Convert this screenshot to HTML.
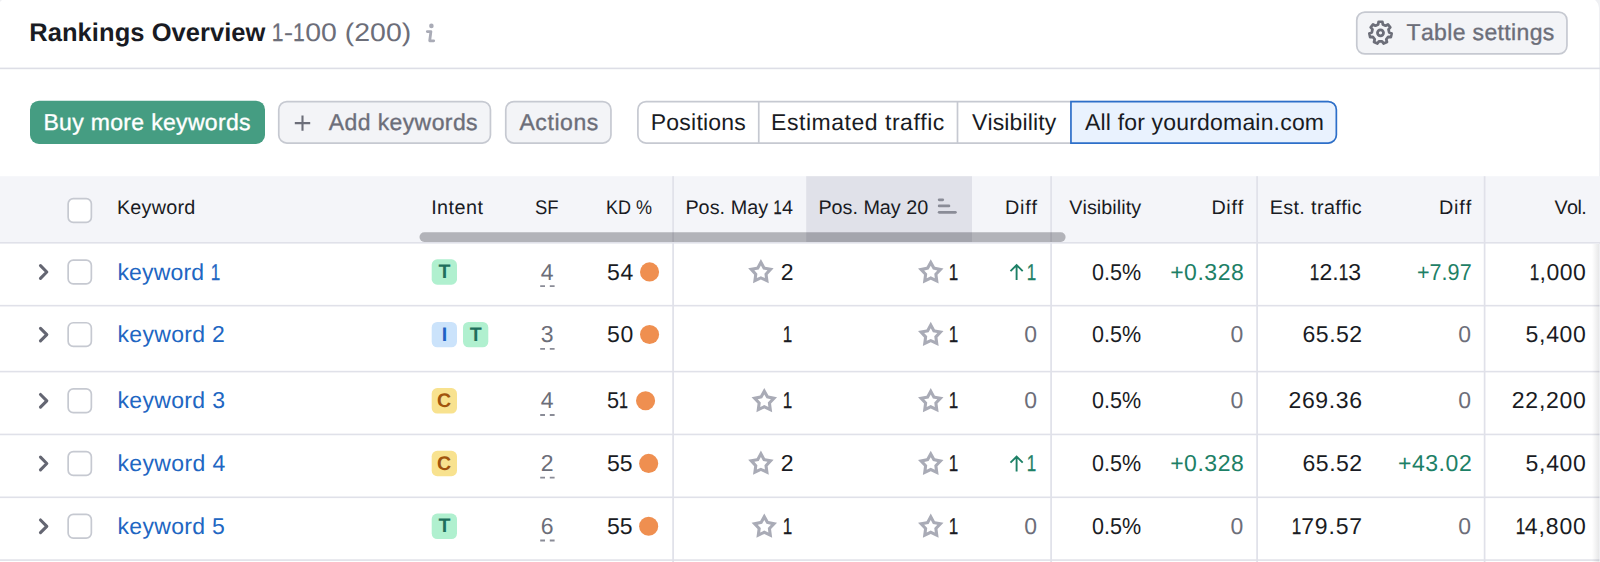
<!DOCTYPE html>
<html lang="en"><head><meta charset="utf-8"><title>Rankings Overview</title>
<style>
*{box-sizing:border-box;margin:0;padding:0}
html,body{width:1600px;height:562px;overflow:hidden;background:#eff0f3}
body{position:relative;font-family:"Liberation Sans",sans-serif;color:#191b23;font-kerning:none;text-rendering:geometricPrecision}
.card{position:absolute;left:-2px;top:-2px;width:1601px;height:580px;background:#fff;border-radius:10px}
.shade{position:absolute;left:1592px;top:244px;width:7px;height:318px;background:linear-gradient(90deg,rgba(25,27,35,0),rgba(25,27,35,.10))}
svg{position:absolute;left:0;top:0}
.a{position:absolute;white-space:nowrap;height:30px;line-height:30px;transform-origin:0 50%}
.gr{color:#6c6e79}
.gn{color:#1d8066}
.kw{color:#2166c2}
.md{-webkit-text-stroke:.35px currentColor}
.o{display:inline-block;letter-spacing:0;transform:scaleX(.74);margin:0 -.07em;-webkit-text-stroke:.3px currentColor}
</style></head><body>
<div class="card"></div>
<svg width="1600" height="562" viewBox="0 0 1600 562">
<path d="M427.300 31.600H430.900L429.700 40.800H433.700" fill="none" stroke="#a9abb6" stroke-width="2.800" stroke-linecap="round" stroke-linejoin="round"/><circle cx="431.400" cy="25.900" r="2.300" fill="#a9abb6"/>
<rect x="1356.75" y="12.05" width="210.20" height="41.90" rx="8.15" fill="#f3f4f7" stroke="#c6c9d1" stroke-width="1.7"/>
<g fill="none" stroke="#6c6e79" stroke-width="2.700" stroke-linejoin="round"><path d="M1378.18 24.42 L1378.61 21.76 L1382.39 21.76 L1382.82 24.42 L1385.61 25.76 L1387.95 24.44 L1390.31 27.40 L1388.50 29.39 L1389.19 32.40 L1391.68 33.41 L1390.84 37.10 L1388.16 36.93 L1386.23 39.35 L1387.00 41.92 L1383.58 43.57 L1382.05 41.36 L1378.95 41.36 L1377.42 43.57 L1374.00 41.92 L1374.77 39.35 L1372.84 36.93 L1370.16 37.10 L1369.32 33.41 L1371.81 32.40 L1372.50 29.39 L1370.69 27.40 L1373.05 24.44 L1375.39 25.76Z"/><circle cx="1380.500" cy="32.800" r="3" stroke-width="2.800"/></g>
<rect x="0" y="67.60" width="1600" height="1.6" fill="#dddee6"/>
<rect x="30.00" y="100.70" width="235.00" height="43.20" rx="9.00" fill="#459d82"/>
<rect x="278.75" y="101.55" width="211.70" height="41.50" rx="8.15" fill="#f3f4f7" stroke="#c6c9d1" stroke-width="1.7"/>
<path d="M294.800 123.100H310.200M302.500 115.400V130.800" stroke="#6c6e79" stroke-width="2.100" fill="none"/>
<rect x="505.75" y="101.55" width="105.20" height="41.50" rx="8.15" fill="#f3f4f7" stroke="#c6c9d1" stroke-width="1.7"/>
<rect x="637.90" y="101.55" width="698.25" height="41.50" rx="8.15" fill="#fff" stroke="#c6c9d1" stroke-width="1.7"/>
<rect x="757.90" y="101.5" width="1.7" height="41.5" fill="#c6c9d1"/>
<rect x="956.65" y="101.5" width="1.7" height="41.5" fill="#c6c9d1"/>
<path d="M1070.9499999999998 101.55H1328.2A8.15 8.15 0 0 1 1336.3500000000001 109.7V134.9A8.15 8.15 0 0 1 1328.2 143.05H1070.9499999999998Z" fill="#e9f2fe" stroke="#2d6fc9" stroke-width="1.7"/>
<rect x="0" y="176.200" width="1600" height="66.600" fill="#f4f5f9"/>
<rect x="806.200" y="176.200" width="165.800" height="66.600" fill="#e0e1e9"/>
<rect x="0" y="242.00" width="1600" height="1.6" fill="#e0e1e9"/>
<rect x="0" y="304.85" width="1600" height="1.6" fill="#e0e1e9"/>
<rect x="0" y="370.80" width="1600" height="1.6" fill="#e0e1e9"/>
<rect x="0" y="433.65" width="1600" height="1.6" fill="#e0e1e9"/>
<rect x="0" y="496.50" width="1600" height="1.6" fill="#e0e1e9"/>
<rect x="0" y="559.30" width="1600" height="1.6" fill="#e0e1e9"/>
<rect x="672.25" y="176.2" width="1.7" height="385.8" fill="#e0e1e9"/>
<rect x="1050.25" y="176.2" width="1.7" height="385.8" fill="#e0e1e9"/>
<rect x="1256.25" y="176.2" width="1.7" height="385.8" fill="#e0e1e9"/>
<rect x="1483.75" y="176.2" width="1.7" height="385.8" fill="#e0e1e9"/>
<rect x="419.50" y="232.30" width="646.10" height="9.60" rx="4.80" fill="rgba(25,27,35,.3)"/>
<g fill="#8a8c97"><rect x="937.800" y="198.400" width="6.300" height="2.800" rx="1.400"/><rect x="937.800" y="204.500" width="12.500" height="2.800" rx="1.400"/><rect x="937.800" y="210.900" width="19" height="2.800" rx="1.400"/></g>
<rect x="68.15" y="198.65" width="23.20" height="23.70" rx="5.15" fill="#fff" stroke="#c6c9d1" stroke-width="1.7"/>
<path d="M40.500 265.70L46.800 272.00L40.500 278.30" fill="none" stroke="#646672" stroke-width="3.100" stroke-linecap="round" stroke-linejoin="round"/>
<rect x="68.15" y="260.15" width="23.20" height="23.70" rx="5.15" fill="#fff" stroke="#c6c9d1" stroke-width="1.7"/>
<rect x="431.70" y="259.30" width="25.30" height="25.40" rx="5.50" fill="#b0f0cf"/>
<path d="M540.200 286.20H554.600" stroke="#8a8c97" stroke-width="1.800" stroke-dasharray="4.800 4.800" fill="none"/>
<circle cx="649.55" cy="271.90" r="9.550" fill="#ef8f50"/>
<path fill="#a9abb6" fill-rule="evenodd" d="M760.90 259.10 L765.07 266.76 L773.64 268.36 L767.65 274.69 L768.78 283.34 L760.90 279.60 L753.02 283.34 L754.15 274.69 L748.16 268.36 L756.73 266.76Z M760.90 265.60 L763.07 269.51 L767.46 270.37 L764.42 273.64 L764.96 278.08 L760.90 276.20 L756.84 278.08 L757.38 273.64 L754.34 270.37 L758.73 269.51Z"/>
<path fill="#a9abb6" fill-rule="evenodd" d="M930.75 259.20 L934.92 266.86 L943.49 268.46 L937.50 274.79 L938.63 283.44 L930.75 279.70 L922.87 283.44 L924.00 274.79 L918.01 268.46 L926.58 266.86Z M930.75 265.70 L932.92 269.61 L937.31 270.47 L934.27 273.74 L934.81 278.18 L930.75 276.30 L926.69 278.18 L927.23 273.74 L924.19 270.47 L928.58 269.61Z"/>
<path d="M1016.600 280.00V265.50M1010.500 271.10L1016.600 265.00L1022.700 271.10" fill="none" stroke="#1d8066" stroke-width="1.900"/>
<path d="M40.500 328.30L46.800 334.60L40.500 340.90" fill="none" stroke="#646672" stroke-width="3.100" stroke-linecap="round" stroke-linejoin="round"/>
<rect x="68.15" y="322.75" width="23.20" height="23.70" rx="5.15" fill="#fff" stroke="#c6c9d1" stroke-width="1.7"/>
<rect x="431.70" y="321.90" width="25.30" height="25.40" rx="5.50" fill="#cbe3fb"/>
<rect x="463.00" y="321.90" width="25.30" height="25.40" rx="5.50" fill="#b0f0cf"/>
<path d="M540.200 348.80H554.600" stroke="#8a8c97" stroke-width="1.800" stroke-dasharray="4.800 4.800" fill="none"/>
<circle cx="649.55" cy="334.50" r="9.550" fill="#ef8f50"/>
<path fill="#a9abb6" fill-rule="evenodd" d="M930.75 321.80 L934.92 329.46 L943.49 331.06 L937.50 337.39 L938.63 346.04 L930.75 342.30 L922.87 346.04 L924.00 337.39 L918.01 331.06 L926.58 329.46Z M930.75 328.30 L932.92 332.21 L937.31 333.07 L934.27 336.34 L934.81 340.78 L930.75 338.90 L926.69 340.78 L927.23 336.34 L924.19 333.07 L928.58 332.21Z"/>
<path d="M40.500 394.50L46.800 400.80L40.500 407.10" fill="none" stroke="#646672" stroke-width="3.100" stroke-linecap="round" stroke-linejoin="round"/>
<rect x="68.15" y="388.95" width="23.20" height="23.70" rx="5.15" fill="#fff" stroke="#c6c9d1" stroke-width="1.7"/>
<rect x="431.70" y="388.10" width="25.30" height="25.40" rx="5.50" fill="#f8e28f"/>
<path d="M540.200 415.00H554.600" stroke="#8a8c97" stroke-width="1.800" stroke-dasharray="4.800 4.800" fill="none"/>
<circle cx="645.55" cy="400.70" r="9.550" fill="#ef8f50"/>
<path fill="#a9abb6" fill-rule="evenodd" d="M764.30 387.90 L768.47 395.56 L777.04 397.16 L771.05 403.49 L772.18 412.14 L764.30 408.40 L756.42 412.14 L757.55 403.49 L751.56 397.16 L760.13 395.56Z M764.30 394.40 L766.47 398.31 L770.86 399.17 L767.82 402.44 L768.36 406.88 L764.30 405.00 L760.24 406.88 L760.78 402.44 L757.74 399.17 L762.13 398.31Z"/>
<path fill="#a9abb6" fill-rule="evenodd" d="M930.75 388.00 L934.92 395.66 L943.49 397.26 L937.50 403.59 L938.63 412.24 L930.75 408.50 L922.87 412.24 L924.00 403.59 L918.01 397.26 L926.58 395.66Z M930.75 394.50 L932.92 398.41 L937.31 399.27 L934.27 402.54 L934.81 406.98 L930.75 405.10 L926.69 406.98 L927.23 402.54 L924.19 399.27 L928.58 398.41Z"/>
<path d="M40.500 457.20L46.800 463.50L40.500 469.80" fill="none" stroke="#646672" stroke-width="3.100" stroke-linecap="round" stroke-linejoin="round"/>
<rect x="68.15" y="451.65" width="23.20" height="23.70" rx="5.15" fill="#fff" stroke="#c6c9d1" stroke-width="1.7"/>
<rect x="431.70" y="450.80" width="25.30" height="25.40" rx="5.50" fill="#f8e28f"/>
<path d="M540.200 477.70H554.600" stroke="#8a8c97" stroke-width="1.800" stroke-dasharray="4.800 4.800" fill="none"/>
<circle cx="648.65" cy="463.40" r="9.550" fill="#ef8f50"/>
<path fill="#a9abb6" fill-rule="evenodd" d="M760.90 450.60 L765.07 458.26 L773.64 459.86 L767.65 466.19 L768.78 474.84 L760.90 471.10 L753.02 474.84 L754.15 466.19 L748.16 459.86 L756.73 458.26Z M760.90 457.10 L763.07 461.01 L767.46 461.87 L764.42 465.14 L764.96 469.58 L760.90 467.70 L756.84 469.58 L757.38 465.14 L754.34 461.87 L758.73 461.01Z"/>
<path fill="#a9abb6" fill-rule="evenodd" d="M930.75 450.70 L934.92 458.36 L943.49 459.96 L937.50 466.29 L938.63 474.94 L930.75 471.20 L922.87 474.94 L924.00 466.29 L918.01 459.96 L926.58 458.36Z M930.75 457.20 L932.92 461.11 L937.31 461.97 L934.27 465.24 L934.81 469.68 L930.75 467.80 L926.69 469.68 L927.23 465.24 L924.19 461.97 L928.58 461.11Z"/>
<path d="M1016.600 471.50V457.00M1010.500 462.60L1016.600 456.50L1022.700 462.60" fill="none" stroke="#1d8066" stroke-width="1.900"/>
<path d="M40.500 520.00L46.800 526.30L40.500 532.60" fill="none" stroke="#646672" stroke-width="3.100" stroke-linecap="round" stroke-linejoin="round"/>
<rect x="68.15" y="514.45" width="23.20" height="23.70" rx="5.15" fill="#fff" stroke="#c6c9d1" stroke-width="1.7"/>
<rect x="431.70" y="513.60" width="25.30" height="25.40" rx="5.50" fill="#b0f0cf"/>
<path d="M540.200 540.50H554.600" stroke="#8a8c97" stroke-width="1.800" stroke-dasharray="4.800 4.800" fill="none"/>
<circle cx="648.65" cy="526.20" r="9.550" fill="#ef8f50"/>
<path fill="#a9abb6" fill-rule="evenodd" d="M764.30 513.40 L768.47 521.06 L777.04 522.66 L771.05 528.99 L772.18 537.64 L764.30 533.90 L756.42 537.64 L757.55 528.99 L751.56 522.66 L760.13 521.06Z M764.30 519.90 L766.47 523.81 L770.86 524.67 L767.82 527.94 L768.36 532.38 L764.30 530.50 L760.24 532.38 L760.78 527.94 L757.74 524.67 L762.13 523.81Z"/>
<path fill="#a9abb6" fill-rule="evenodd" d="M930.75 513.50 L934.92 521.16 L943.49 522.76 L937.50 529.09 L938.63 537.74 L930.75 534.00 L922.87 537.74 L924.00 529.09 L918.01 522.76 L926.58 521.16Z M930.75 520.00 L932.92 523.91 L937.31 524.77 L934.27 528.04 L934.81 532.48 L930.75 530.60 L926.69 532.48 L927.23 528.04 L924.19 524.77 L928.58 523.91Z"/>
</svg>
<div class="shade"></div>
<div class="a" style="top:18px;font-size:25.5px;font-weight:700;left:29.29px;letter-spacing:0.056px;">Rankings Overview</div>
<div class="a gr" style="top:18px;font-size:25.5px;left:272.08px;transform:scaleX(1.1162);"><span class="o">1</span>-<span class="o">1</span>00 (200)</div>
<div class="a gr md" style="top:17px;font-size:23px;left:1406.48px;letter-spacing:0.358px;">Table settings</div>
<div class="a md" style="top:107px;font-size:23px;left:43.41px;letter-spacing:0.326px;color:#fff">Buy more keywords</div>
<div class="a gr md" style="top:107px;font-size:23px;left:328.71px;letter-spacing:0.402px;">Add keywords</div>
<div class="a gr md" style="top:107px;font-size:23px;left:519.46px;letter-spacing:0.575px;">Actions</div>
<div class="a" style="top:107px;font-size:23px;left:650.81px;letter-spacing:0.212px;">Positions</div>
<div class="a" style="top:107px;font-size:23px;left:771.11px;letter-spacing:0.522px;">Estimated traffic</div>
<div class="a" style="top:107px;font-size:23px;left:971.90px;letter-spacing:0.147px;">Visibility</div>
<div class="a" style="top:107px;font-size:23px;left:1084.96px;letter-spacing:0.184px;">All for yourdomain.com</div>
<div class="a" style="top:193px;font-size:19.8px;left:116.88px;letter-spacing:0.228px;">Keyword</div>
<div class="a" style="top:193px;font-size:19.8px;left:431.17px;letter-spacing:0.447px;">Intent</div>
<div class="a" style="top:193px;font-size:19.8px;left:535.16px;transform:scaleX(0.9318);">SF</div>
<div class="a" style="top:193px;font-size:19.8px;left:605.52px;transform:scaleX(0.9113);">KD %</div>
<div class="a" style="top:193px;font-size:19.8px;left:685.38px;letter-spacing:0.047px;">Pos. May <span class="o">1</span>4</div>
<div class="a" style="top:193px;font-size:19.8px;left:818.38px;letter-spacing:-0.015px;">Pos. May 20</div>
<div class="a" style="top:193px;font-size:19.8px;left:1004.88px;letter-spacing:0.798px;">Diff</div>
<div class="a" style="top:193px;font-size:19.8px;left:1069.16px;letter-spacing:0.068px;">Visibility</div>
<div class="a" style="top:193px;font-size:19.8px;left:1211.38px;letter-spacing:0.698px;">Diff</div>
<div class="a" style="top:193px;font-size:19.8px;left:1269.63px;letter-spacing:0.375px;">Est. traffic</div>
<div class="a" style="top:193px;font-size:19.8px;left:1438.88px;letter-spacing:0.865px;">Diff</div>
<div class="a" style="top:193px;font-size:19.8px;left:1554.41px;letter-spacing:-0.574px;">Vol.</div>
<div class="a kw" style="top:257px;font-size:23px;left:117.45px;letter-spacing:0.179px;">keyword <span class="o">1</span></div>
<div class="a" style="top:257px;font-size:19.6px;font-weight:700;left:438.43px;color:#1f6f5c">T</div>
<div class="a gr" style="top:257px;font-size:23px;left:540.78px;">4</div>
<div class="a" style="top:257px;font-size:23px;left:606.88px;letter-spacing:0.912px;">54</div>
<div class="a" style="top:257px;font-size:23px;left:780.85px;">2</div>
<div class="a" style="top:257px;font-size:23px;left:948.83px;"><span class="o">1</span></div>
<div class="a gn" style="top:257px;font-size:23px;left:1026.63px;"><span class="o">1</span></div>
<div class="a" style="top:257px;font-size:23px;left:1092.16px;transform:scaleX(0.9368);">0.5%</div>
<div class="a gn" style="top:257px;font-size:23px;left:1170.13px;letter-spacing:0.537px;">+0.328</div>
<div class="a" style="top:257px;font-size:23px;left:1309.90px;letter-spacing:-0.003px;"><span class="o">1</span>2.<span class="o">1</span>3</div>
<div class="a gn" style="top:257px;font-size:23px;left:1416.95px;transform:scaleX(0.9389);">+7.97</div>
<div class="a" style="top:257px;font-size:23px;left:1529.90px;letter-spacing:0.554px;"><span class="o">1</span>,000</div>
<div class="a kw" style="top:319px;font-size:23px;left:117.45px;letter-spacing:0.329px;">keyword 2</div>
<div class="a" style="top:320px;font-size:19.6px;font-weight:700;left:441.83px;color:#2060c4">I</div>
<div class="a" style="top:320px;font-size:19.6px;font-weight:700;left:469.73px;color:#1f6f5c">T</div>
<div class="a gr" style="top:319px;font-size:23px;left:540.77px;">3</div>
<div class="a" style="top:319px;font-size:23px;left:606.88px;letter-spacing:0.836px;">50</div>
<div class="a" style="top:319px;font-size:23px;left:782.68px;"><span class="o">1</span></div>
<div class="a" style="top:319px;font-size:23px;left:948.83px;"><span class="o">1</span></div>
<div class="a gr" style="top:319px;font-size:23px;left:1024.23px;">0</div>
<div class="a" style="top:319px;font-size:23px;left:1092.16px;transform:scaleX(0.9368);">0.5%</div>
<div class="a gr" style="top:319px;font-size:23px;left:1230.40px;">0</div>
<div class="a" style="top:319px;font-size:23px;left:1302.58px;letter-spacing:0.505px;">65.52</div>
<div class="a gr" style="top:319px;font-size:23px;left:1458.28px;">0</div>
<div class="a" style="top:319px;font-size:23px;left:1525.58px;letter-spacing:0.691px;">5,400</div>
<div class="a kw" style="top:385px;font-size:23px;left:117.45px;letter-spacing:0.342px;">keyword 3</div>
<div class="a" style="top:386px;font-size:19.6px;font-weight:700;left:437.11px;color:#a1540d">C</div>
<div class="a gr" style="top:385px;font-size:23px;left:540.78px;">4</div>
<div class="a" style="top:385px;font-size:23px;left:606.93px;transform:scaleX(0.9437);">5<span class="o">1</span></div>
<div class="a" style="top:385px;font-size:23px;left:782.68px;"><span class="o">1</span></div>
<div class="a" style="top:385px;font-size:23px;left:948.83px;"><span class="o">1</span></div>
<div class="a gr" style="top:385px;font-size:23px;left:1024.23px;">0</div>
<div class="a" style="top:385px;font-size:23px;left:1092.16px;transform:scaleX(0.9368);">0.5%</div>
<div class="a gr" style="top:385px;font-size:23px;left:1230.40px;">0</div>
<div class="a" style="top:385px;font-size:23px;left:1288.54px;letter-spacing:0.624px;">269.36</div>
<div class="a gr" style="top:385px;font-size:23px;left:1458.28px;">0</div>
<div class="a" style="top:385px;font-size:23px;left:1511.84px;letter-spacing:0.742px;">22,200</div>
<div class="a kw" style="top:448px;font-size:23px;left:117.45px;letter-spacing:0.375px;">keyword 4</div>
<div class="a" style="top:449px;font-size:19.6px;font-weight:700;left:437.11px;color:#a1540d">C</div>
<div class="a gr" style="top:448px;font-size:23px;left:540.70px;">2</div>
<div class="a" style="top:448px;font-size:23px;left:606.88px;letter-spacing:0.104px;">55</div>
<div class="a" style="top:448px;font-size:23px;left:780.85px;">2</div>
<div class="a" style="top:448px;font-size:23px;left:948.83px;"><span class="o">1</span></div>
<div class="a gn" style="top:448px;font-size:23px;left:1026.63px;"><span class="o">1</span></div>
<div class="a" style="top:448px;font-size:23px;left:1092.16px;transform:scaleX(0.9368);">0.5%</div>
<div class="a gn" style="top:448px;font-size:23px;left:1170.13px;letter-spacing:0.537px;">+0.328</div>
<div class="a" style="top:448px;font-size:23px;left:1302.58px;letter-spacing:0.505px;">65.52</div>
<div class="a gn" style="top:448px;font-size:23px;left:1397.88px;letter-spacing:0.578px;">+43.02</div>
<div class="a" style="top:448px;font-size:23px;left:1525.58px;letter-spacing:0.691px;">5,400</div>
<div class="a kw" style="top:511px;font-size:23px;left:117.45px;letter-spacing:0.324px;">keyword 5</div>
<div class="a" style="top:511px;font-size:19.6px;font-weight:700;left:438.43px;color:#1f6f5c">T</div>
<div class="a gr" style="top:511px;font-size:23px;left:540.63px;">6</div>
<div class="a" style="top:511px;font-size:23px;left:606.88px;letter-spacing:0.104px;">55</div>
<div class="a" style="top:511px;font-size:23px;left:782.68px;"><span class="o">1</span></div>
<div class="a" style="top:511px;font-size:23px;left:948.83px;"><span class="o">1</span></div>
<div class="a gr" style="top:511px;font-size:23px;left:1024.23px;">0</div>
<div class="a" style="top:511px;font-size:23px;left:1092.16px;transform:scaleX(0.9368);">0.5%</div>
<div class="a gr" style="top:511px;font-size:23px;left:1230.40px;">0</div>
<div class="a" style="top:511px;font-size:23px;left:1291.65px;letter-spacing:0.845px;"><span class="o">1</span>79.57</div>
<div class="a gr" style="top:511px;font-size:23px;left:1458.28px;">0</div>
<div class="a" style="top:511px;font-size:23px;left:1515.15px;letter-spacing:0.905px;"><span class="o">1</span>4,800</div>
</body></html>
